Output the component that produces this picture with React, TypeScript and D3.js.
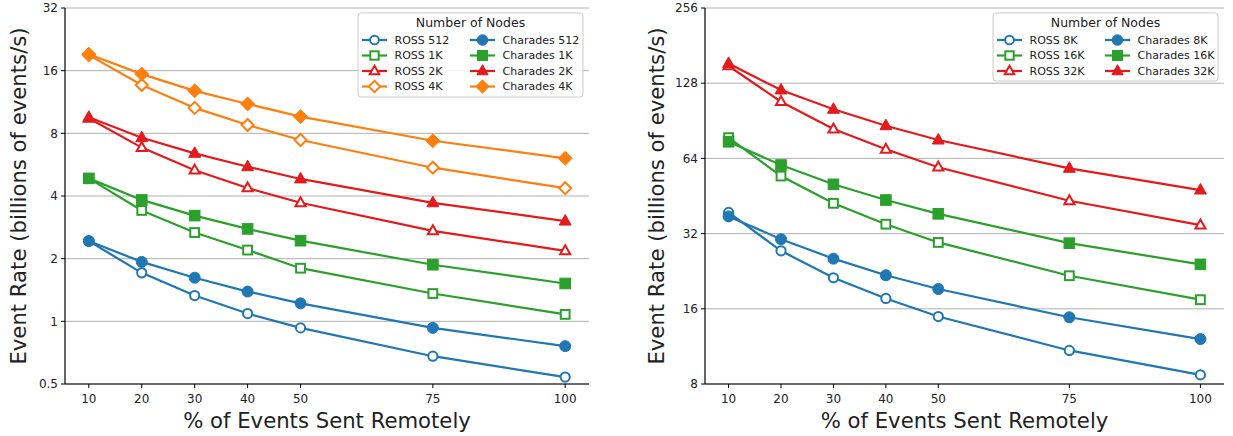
import React from "react";
import * as d3 from "d3";

const xVals = [10, 20, 30, 40, 50, 75, 100];

const ross512 = [2.43, 1.71, 1.33, 1.09, 0.93, 0.68, 0.54];
const charades512 = [2.43, 1.93, 1.62, 1.39, 1.22, 0.93, 0.76];
const ross1k = [4.86, 3.41, 2.67, 2.2, 1.8, 1.36, 1.08];
const charades1k = [4.86, 3.83, 3.22, 2.78, 2.44, 1.87, 1.52];
const ross2k = [9.45, 6.83, 5.32, 4.37, 3.71, 2.72, 2.18];
const charades2k = [9.55, 7.62, 6.41, 5.53, 4.83, 3.71, 3.03];
const ross4k = [19.0, 13.65, 10.6, 8.77, 7.43, 5.47, 4.36];
const charades4k = [19.2, 15.4, 12.8, 11.07, 9.62, 7.37, 6.07];

const ross8k = [38.9, 27.3, 21.3, 17.6, 14.9, 10.9, 8.7];
const charades8k = [37.5, 30.4, 25.4, 21.8, 19.2, 14.8, 12.1];
const ross16k = [77.5, 54.4, 42.3, 34.9, 29.5, 21.7, 17.4];
const charades16k = [74.6, 60.2, 50.4, 43.6, 38.4, 29.3, 24.1];
const ross32k = [150, 107.9, 83.9, 69.6, 59.0, 43.3, 34.6];
const charades32k = [153.5, 120.2, 100.6, 86.5, 75.8, 58.4, 47.8];

const leftTicks = [0.5, 1, 2, 4, 8, 16, 32];
const rightTicks = [8, 16, 32, 64, 128, 256];

const BLUE = "#1f77b4";
const GREEN = "#2ca02c";
const RED = "#e41a1c";
const ORANGE = "#ff7f0e";

type Marker = "circle" | "square" | "triangle" | "diamond";
type Series = { name: string; values: number[]; color: string; marker: Marker; filled: boolean };

const leftSeries: Series[] = [
  { name: "ROSS 512", values: ross512, color: BLUE, marker: "circle", filled: false },
  { name: "Charades 512", values: charades512, color: BLUE, marker: "circle", filled: true },
  { name: "ROSS 1K", values: ross1k, color: GREEN, marker: "square", filled: false },
  { name: "Charades 1K", values: charades1k, color: GREEN, marker: "square", filled: true },
  { name: "ROSS 2K", values: ross2k, color: RED, marker: "triangle", filled: false },
  { name: "Charades 2K", values: charades2k, color: RED, marker: "triangle", filled: true },
  { name: "ROSS 4K", values: ross4k, color: ORANGE, marker: "diamond", filled: false },
  { name: "Charades 4K", values: charades4k, color: ORANGE, marker: "diamond", filled: true },
];

const rightSeries: Series[] = [
  { name: "ROSS 8K", values: ross8k, color: BLUE, marker: "circle", filled: false },
  { name: "Charades 8K", values: charades8k, color: BLUE, marker: "circle", filled: true },
  { name: "ROSS 16K", values: ross16k, color: GREEN, marker: "square", filled: false },
  { name: "Charades 16K", values: charades16k, color: GREEN, marker: "square", filled: true },
  { name: "ROSS 32K", values: ross32k, color: RED, marker: "triangle", filled: false },
  { name: "Charades 32K", values: charades32k, color: RED, marker: "triangle", filled: true },
];

const FONT = "DejaVu Sans, sans-serif";

function MarkerShape({ x, y, s, scale = 1 }: { x: number; y: number; s: Series; scale?: number }) {
  const fill = s.filled ? s.color : "white";
  const sw = s.filled ? 1 : 2;
  if (s.marker === "circle") {
    const r = (s.filled ? 5.5 : 4.6) * scale;
    return <circle cx={x} cy={y} r={r} fill={fill} stroke={s.color} strokeWidth={sw} />;
  }
  if (s.marker === "square") {
    const h = (s.filled ? 5.3 : 4.4) * scale;
    return <rect x={x - h} y={y - h} width={2 * h} height={2 * h} fill={fill} stroke={s.color} strokeWidth={sw} />;
  }
  if (s.marker === "triangle") {
    const r = (s.filled ? 6.6 : 5.6) * scale;
    const p = `M${x},${y - r} L${x + r * 0.9},${y + r * 0.6} L${x - r * 0.9},${y + r * 0.6} Z`;
    return <path d={p} fill={fill} stroke={s.color} strokeWidth={sw} strokeLinejoin="miter" />;
  }
  const r = (s.filled ? 7 : 6) * scale;
  const p = `M${x},${y - r} L${x + r},${y} L${x},${y + r} L${x - r},${y} Z`;
  return <path d={p} fill={fill} stroke={s.color} strokeWidth={sw} />;
}

type PanelProps = {
  left: number;
  right: number;
  top: number;
  bottom: number;
  yDomain: [number, number];
  yTicks: number[];
  series: Series[];
  ylabelX: number;
  legend: { x0: number; x1: number; y0: number; y1: number; col1: number; col2: number };
};

function Panel({ left, right, top, bottom, yDomain, yTicks, series, ylabelX, legend }: PanelProps) {
  const x = d3.scaleLinear().domain([5.5, 104.5]).range([left, right]);
  const y = d3.scaleLog().base(2).domain(yDomain).range([bottom, top]);
  const line = d3
    .line<number>()
    .x((_, i) => x(xVals[i]))
    .y((d) => y(d));
  const rowY = (i: number) => legend.y0 + 27 + i * 15.5;
  return (
    <g>
      {yTicks.map((t) => (
        <g key={t}>
          <line x1={left} x2={right} y1={y(t)} y2={y(t)} stroke="#b0b0b0" strokeWidth={1} />
          <line x1={left - 4} x2={left} y1={y(t)} y2={y(t)} stroke="black" strokeWidth={1} />
          <text x={left - 7} y={y(t)} dy="0.35em" textAnchor="end" fontSize={12} fontFamily={FONT} fill="#222">
            {t}
          </text>
        </g>
      ))}
      {xVals.map((t) => (
        <g key={t}>
          <line x1={x(t)} x2={x(t)} y1={bottom} y2={bottom + 4} stroke="black" strokeWidth={1} />
          <text x={x(t)} y={bottom + 19.3} textAnchor="middle" fontSize={12} fontFamily={FONT} fill="#222">
            {t}
          </text>
        </g>
      ))}
      <line x1={left} x2={left} y1={top} y2={bottom} stroke="black" strokeWidth={1.2} />
      <line x1={left} x2={right} y1={bottom} y2={bottom} stroke="black" strokeWidth={1.2} />
      {series.map((s) => (
        <g key={s.name}>
          <path d={line(s.values) || ""} fill="none" stroke={s.color} strokeWidth={2.2} />
          {s.values.map((v, i) => (
            <MarkerShape key={i} x={x(xVals[i])} y={y(v)} s={s} />
          ))}
        </g>
      ))}
      <text
        transform={`translate(${ylabelX},${(top + bottom) / 2}) rotate(-90)`}
        textAnchor="middle"
        fontSize={21.2}
        fontFamily={FONT}
        fill="#222"
      >
        Event Rate (billions of events/s)
      </text>
      <text x={(left + right) / 2} y={428} textAnchor="middle" fontSize={21.2} fontFamily={FONT} fill="#222">
        % of Events Sent Remotely
      </text>
      <g>
        <rect
          x={legend.x0}
          y={legend.y0}
          width={legend.x1 - legend.x0}
          height={legend.y1 - legend.y0}
          rx={3}
          fill="white"
          fillOpacity={0.85}
          stroke="#cccccc"
          strokeWidth={1}
        />
        <text
          x={(legend.x0 + legend.x1) / 2}
          y={legend.y0 + 14}
          textAnchor="middle"
          fontSize={12.5}
          fontFamily={FONT}
          fill="#222"
        >
          Number of Nodes
        </text>
        {series.map((s, i) => {
          const col = i % 2;
          const row = Math.floor(i / 2);
          const cx = col === 0 ? legend.col1 : legend.col2;
          const ry = rowY(row);
          return (
            <g key={s.name}>
              <line x1={cx - 12.5} x2={cx + 12.5} y1={ry} y2={ry} stroke={s.color} strokeWidth={2.2} />
              <MarkerShape x={cx} y={ry} s={s} scale={0.95} />
              <text x={cx + 20} y={ry} dy="0.35em" fontSize={11} fontFamily={FONT} fill="#222">
                {s.name}
              </text>
            </g>
          );
        })}
      </g>
    </g>
  );
}

export default function App() {
  return (
    <svg
      width={1233}
      height={436}
      style={{ position: "absolute", left: 0, top: 0, background: "white" }}
    >
      <rect width={1233} height={436} fill="white" />
      <Panel
        left={65}
        right={589}
        top={8}
        bottom={384}
        yDomain={[0.5, 32]}
        yTicks={leftTicks}
        series={leftSeries}
        ylabelX={25.5}
        legend={{ x0: 358, x1: 583, y0: 13, y1: 97, col1: 374.5, col2: 482.5 }}
      />
      <Panel
        left={705}
        right={1224}
        top={8}
        bottom={384}
        yDomain={[8, 256]}
        yTicks={rightTicks}
        series={rightSeries}
        ylabelX={663.5}
        legend={{ x0: 993, x1: 1218, y0: 13, y1: 81, col1: 1009.5, col2: 1117.5 }}
      />
    </svg>
  );
}
